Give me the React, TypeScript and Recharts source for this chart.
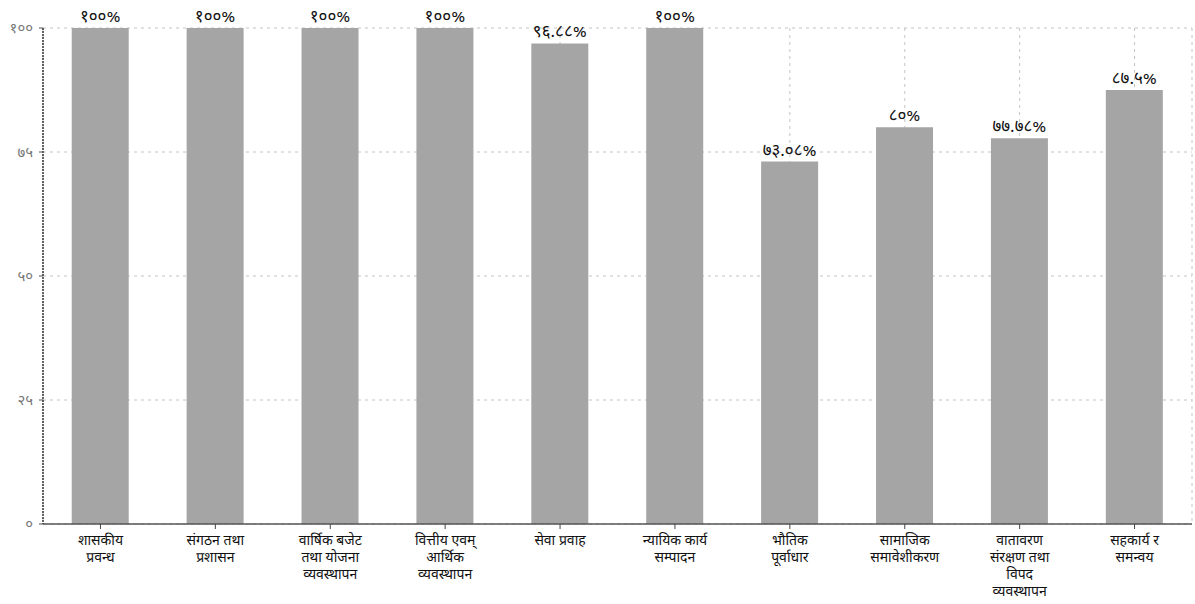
import { BarChart, Bar, XAxis, YAxis, CartesianGrid, LabelList } from "recharts";

const categories = [
  ["शासकीय", "प्रवन्ध"],
  ["संगठन तथा", "प्रशासन"],
  ["वार्षिक बजेट", "तथा योजना", "व्यवस्थापन"],
  ["वित्तीय एवम्", "आर्थिक", "व्यवस्थापन"],
  ["सेवा प्रवाह"],
  ["न्यायिक कार्य", "सम्पादन"],
  ["भौतिक", "पूर्वाधार"],
  ["सामाजिक", "समावेशीकरण"],
  ["वातावरण", "संरक्षण तथा", "विपद", "व्यवस्थापन"],
  ["सहकार्य र", "समन्वय"],
];

const values = [100, 100, 100, 100, 96.88, 100, 73.08, 80, 77.78, 87.5];

const valueLabels = ["१००%", "१००%", "१००%", "१००%", "९६.८८%", "१००%", "७३.०८%", "८०%", "७७.७८%", "८७.५%"];

const yTicks = [0, 25, 50, 75, 100];
const yTickLabels = ["०", "२५", "५०", "७५", "१००"];

const data = values.map((v, i) => ({ name: String(i), value: v, label: valueLabels[i] }));

const FONT = "'Noto Sans Devanagari', 'Noto Sans', 'DejaVu Sans', sans-serif";

// eslint-disable-next-line @typescript-eslint/no-explicit-any
const CategoryTick = (props: any) => {
  const { x, y, payload } = props;
  const lines = categories[Number(payload.value)] || [];
  return (
    <g>
      {lines.map((line, i) => (
        <text
          key={i}
          x={x}
          y={y + 14 + i * 17}
          textAnchor="middle"
          fill="#111"
          fontSize={14}
          fontFamily={FONT}
        >
          {line}
        </text>
      ))}
    </g>
  );
};

// eslint-disable-next-line @typescript-eslint/no-explicit-any
const ValueTick = (props: any) => {
  const { x, y, payload } = props;
  const idx = yTicks.indexOf(payload.value);
  return (
    <text x={x - 4} y={y + 5} textAnchor="end" fill="#777" fontSize={15} fontFamily={FONT}>
      {yTickLabels[idx]}
    </text>
  );
};

export default function App() {
  return (
    <div style={{ position: "absolute", left: 0, top: 0, background: "#fff" }}>
      <BarChart
        width={1195}
        height={604}
        data={data}
        margin={{ top: 28, right: 3, left: 0, bottom: 0 }}
        barCategoryGap="25%"
      >
        <CartesianGrid stroke="#c4c4c4" strokeDasharray="3 4" />
        <XAxis
          dataKey="name"
          tick={<CategoryTick />}
          tickLine={{ stroke: "#444" }}
          axisLine={{ stroke: "#555", strokeWidth: 1.5 }}
          tickSize={5}
          interval={0}
          height={80}
        />
        <YAxis
          domain={[0, 100]}
          ticks={yTicks}
          tick={<ValueTick />}
          width={43}
          axisLine={{ stroke: "#333", strokeWidth: 1.5, strokeDasharray: "2 1" }}
          tickLine={{ stroke: "#555" }}
          tickSize={4}
        />
        <Bar dataKey="value" fill="#a5a5a5" isAnimationActive={false}>
          <LabelList dataKey="label" position="top" offset={6} fill="#111" fontSize={17} fontFamily={FONT} />
        </Bar>
      </BarChart>
    </div>
  );
}
